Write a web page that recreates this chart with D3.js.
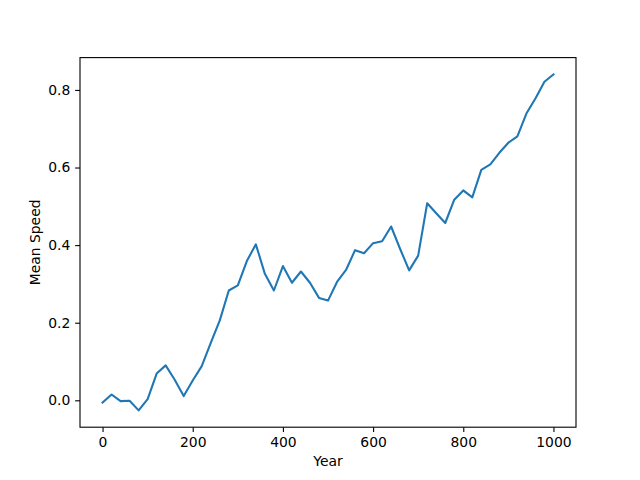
<!DOCTYPE html>
<html lang="en">
<head>
<meta charset="UTF-8">
<title>Mean Speed</title>
<script src="https://d3js.org/d3.v7.min.js"></script>
<style>
  body { margin: 0; background: #fff; }
  svg { display: block; }
  text { font-family: "DejaVu Sans", sans-serif; fill: #000; }
</style>
</head>
<body>
<div id="chart"></div>
<script>
// Data, one point every 20 years
const years = d3.range(0, 1001, 20);
const meanSpeed = [
  -0.006, 0.015, -0.002, -0.001, -0.026, 0.003, 0.069, 0.090, 0.053, 0.011,
  0.051, 0.088, 0.148, 0.206, 0.283, 0.296, 0.359, 0.402, 0.326, 0.283,
  0.346, 0.303, 0.332, 0.303, 0.264, 0.257, 0.305, 0.336, 0.387, 0.379,
  0.405, 0.410, 0.448, 0.390, 0.335, 0.373, 0.508, 0.482, 0.457, 0.517,
  0.541, 0.523, 0.594, 0.608, 0.638, 0.664, 0.680, 0.739, 0.778, 0.821,
  0.840
];
const xTicks = [0, 200, 400, 600, 800, 1000];
const yTicks = [0.0, 0.2, 0.4, 0.6, 0.8];

const W = 640, H = 480;
const margin = { top: 57.6, right: 64, bottom: 52.8, left: 80 };
const width = W - margin.left - margin.right;
const height = H - margin.top - margin.bottom;

const data = years.map((y, i) => ({ year: y, v: meanSpeed[i] }));

// matplotlib style 5% padding around the data
const xMin = d3.min(years), xMax = d3.max(years);
const xPad = (xMax - xMin) * 0.05;
const yMin = d3.min(meanSpeed), yMax = d3.max(meanSpeed);
const yPad = (yMax - yMin) * 0.05;

const x = d3.scaleLinear().domain([xMin - xPad, xMax + xPad]).range([0, width]);
const y = d3.scaleLinear().domain([yMin - yPad, yMax + yPad]).range([height, 0]);

const svg = d3.select("#chart")
  .append("svg")
  .attr("width", W)
  .attr("height", H);

const g = svg.append("g")
  .attr("transform", "translate(" + margin.left + "," + margin.top + ")");

// Line
const line = d3.line()
  .x(d => x(d.year))
  .y(d => y(d.v));

g.append("path")
  .datum(data)
  .attr("fill", "none")
  .attr("stroke", "#1f77b4")
  .attr("stroke-width", 2.08)
  .attr("stroke-linejoin", "round")
  .attr("stroke-linecap", "square")
  .attr("d", line);

// Axes
const tickLen = 4.86, tickPad = 4.86;

const xAxis = g.append("g")
  .attr("transform", "translate(0," + height + ")")
  .call(d3.axisBottom(x).tickValues(xTicks).tickSize(tickLen).tickPadding(tickPad).tickFormat(d3.format("d")));

const yAxis = g.append("g")
  .call(d3.axisLeft(y).tickValues(yTicks).tickSize(tickLen).tickPadding(tickPad).tickFormat(d => d.toFixed(1)));

[xAxis, yAxis].forEach(a => {
  a.select(".domain").remove();
  a.selectAll(".tick line").attr("stroke", "#000").attr("stroke-width", 1.1);
  a.selectAll(".tick text")
    .attr("font-family", "DejaVu Sans, sans-serif")
    .attr("font-size", 13.9)
    .attr("fill", "#000");
});

// Frame
g.append("rect")
  .attr("width", width)
  .attr("height", height)
  .attr("fill", "none")
  .attr("stroke", "#000")
  .attr("stroke-width", 1.1);

// Labels
svg.append("text")
  .attr("x", margin.left + width / 2)
  .attr("y", 466)
  .attr("text-anchor", "middle")
  .attr("font-size", 13.9)
  .text("Year");

svg.append("text")
  .attr("transform", "translate(40," + (margin.top + height / 2) + ") rotate(-90)")
  .attr("text-anchor", "middle")
  .attr("font-size", 13.9)
  .text("Mean Speed");
</script>
</body>
</html>
